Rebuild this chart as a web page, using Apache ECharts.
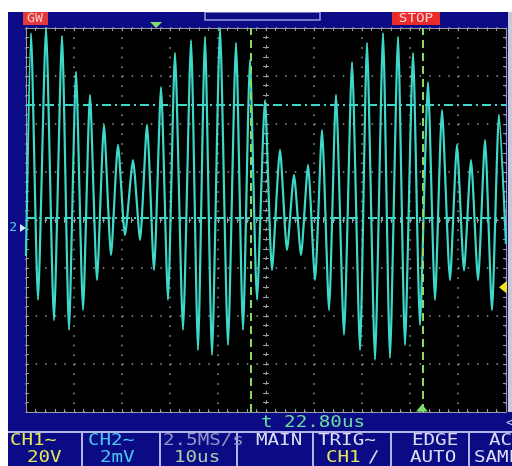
<!DOCTYPE html>
<html><head><meta charset="utf-8">
<script src="https://cdn.jsdelivr.net/npm/echarts@6/dist/echarts.min.js"></script>
<style>html,body{margin:0;padding:0;background:#fff}#c{width:512px;height:466px}</style>
</head><body><div id="c"></div>
<script>
// CH2 trace: successive extremes, time in µs from screen centre, value in mV
const traceTime = [-50, -48.96, -47.5, -45.83, -44.17, -42.5, -41.04, -39.58, -38.12, -36.67, -35.21,
  -33.75, -32.29, -30.83, -29.37, -27.71, -26.25, -24.79, -23.33, -21.87, -20.42,
  -18.96, -17.29, -15.62, -14.17, -12.71, -11.25, -9.58, -7.92, -6.25, -4.79,
  -3.33, -1.87, -0.21, 1.25, 2.92, 4.38, 5.83, 7.29, 8.75, 10.21,
  11.67, 13.13, 14.58, 16.25, 17.92, 19.58, 21.04, 22.71, 24.38, 25.83,
  27.5, 28.96, 30.63, 32.08, 33.75, 35.21, 36.67, 38.33, 39.79, 41.25,
  42.71, 44.17, 45.63, 47.08, 48.54, 50];
const traceVolt = [-1.5, 7.79, -3.33, 8.0, -4.17, 7.67, -4.58, 6.17, -3.75, 5.21, -2.5,
  3.96, -1.46, 3.13, -0.63, 2.5, -0.83, 3.96, -2.08, 5.54, -3.33,
  6.96, -4.58, 7.5, -5.42, 7.63, -5.63, 8.0, -5.21, 7.38, -4.58,
  6.67, -3.33, 5.0, -2.08, 2.92, -1.25, 1.88, -1.46, 2.29, -2.5,
  3.75, -3.75, 5.21, -4.79, 6.58, -5.42, 7.38, -5.83, 7.79, -5.75,
  7.63, -5.21, 6.96, -4.38, 5.75, -3.33, 4.58, -2.5, 3.13, -2.1,
  2.5, -2.5, 3.33, -3.75, 4.38, -1.0];
// cursors
const hCursorVolts = [4.79, 0.1];
const vCursorTimes = [-3.1, 32.7];
// markers
const trigPosTime = -22.9;
const cursorMarkTime = 32.5;
const ch2GroundVolt = -0.33;
const ch1TrigLevel = -2.8;
// screen texts
const topLeftText = 'GW';
const topRightText = 'STOP';
const cursorReadout = 't 22.80us';
const panelRow1 = ['CH1\u223C', 'CH2\u223C', '2.5MS/s', 'MAIN', 'TRIG\u223C', 'EDGE', 'AC'];
const panelRow2 = ['20V', '2mV', '10us', '', 'CH1', 'AUTO', 'SAMP'];

const chart = echarts.init(document.getElementById('c'), null, {renderer: 'canvas'});
const BLUE = '#0b0b86', TRACE = '#3ed8c8', GRIDC = '#9a9aa6', LAV = '#b4b4e6';
const MONO = '"DejaVu Sans Mono", monospace';

function frameX(pos) {
  return {type: 'value', min: -50, max: 50, interval: 10, position: pos,
    axisLine: {show: true, onZero: false, lineStyle: {color: GRIDC, width: 1}},
    axisTick: {show: true, inside: true, length: 3, lineStyle: {color: GRIDC}},
    minorTick: {show: true, splitNumber: 5, length: 3, lineStyle: {color: GRIDC}},
    axisLabel: {show: false}, splitLine: {show: false}};
}
function frameY(pos) {
  return {type: 'value', min: -8, max: 8, interval: 2, position: pos,
    axisLine: {show: true, onZero: false, lineStyle: {color: GRIDC, width: 1}},
    axisTick: {show: true, inside: true, length: 3, lineStyle: {color: GRIDC}},
    minorTick: {show: true, splitNumber: 5, length: 3, lineStyle: {color: GRIDC}},
    axisLabel: {show: false}, splitLine: {show: false}};
}
function centreX(inside) {
  return {type: 'value', min: -50, max: 50, interval: 10, position: 'bottom',
    axisLine: {show: true, onZero: true, onZeroAxisIndex: 0, lineStyle: {color: GRIDC, width: 1, type: [1.5, 8.1]}},
    axisTick: {show: true, inside: inside, length: 3, lineStyle: {color: GRIDC}},
    minorTick: {show: true, splitNumber: 5, length: 3, lineStyle: {color: GRIDC}},
    axisLabel: {show: false}, splitLine: {show: false}};
}
function centreY(inside) {
  return {type: 'value', min: -8, max: 8, interval: 2, position: 'left',
    axisLine: {show: true, onZero: true, onZeroAxisIndex: 0, lineStyle: {color: GRIDC, width: 1, type: [1.5, 8.1]}},
    axisTick: {show: true, inside: inside, length: 3, lineStyle: {color: GRIDC}},
    minorTick: {show: true, splitNumber: 5, length: 3, lineStyle: {color: GRIDC}},
    axisLabel: {show: false}, splitLine: {show: false}};
}

const xAxes = [frameX('bottom'), frameX('top'), centreX(true), centreX(false)];
xAxes[0].splitLine = {show: true, lineStyle: {color: GRIDC, width: 1.5, type: [1.5, 8.1]}};
const yAxes = [frameY('left'), frameY('right'), centreY(true), centreY(false)];
yAxes[0].splitLine = {show: true, lineStyle: {color: GRIDC, width: 1.5, type: [1.5, 8.1]}};

function txt(x, y, text, fill, align, size, sx) {
  return {type: 'text', x: x, y: y, scaleX: sx || 1.2, z: 100,
    style: {text: text, fill: fill, font: (size || 16) + 'px ' + MONO,
      textAlign: align || 'left', align: align || 'left', textVerticalAlign: 'middle', verticalAlign: 'middle'}};
}
function rect(x, y, w, h, fill, stroke) {
  return {type: 'rect', shape: {x: x, y: y, width: w, height: h}, z: 90,
    style: stroke ? {fill: 'none', stroke: stroke, lineWidth: 1.5} : {fill: fill}};
}
function vline(x, y1, y2, c) {
  return {type: 'line', shape: {x1: x, y1: y1, x2: x, y2: y2}, z: 95, style: {stroke: c, lineWidth: 2}};
}

const panelSeps = [82, 160, 237, 313, 391, 469];
const r1x = [10, 88, 163, 256, 318, 412, 489];
const r2x = [27, 100, 174, 0, 326, 410, 474];
const r1c = ['#e6e65a', '#4cc6f2', '#9494c4', '#dcdcf4', '#dcdcf4', '#dcdcf4', '#dcdcf4'];
const r2c = ['#e6e65a', '#4cc6f2', '#a8d0a8', '#dcdcf4', '#e6e65a', '#dcdcf4', '#dcdcf4'];

const graphics = [
  rect(205, 12, 115, 8, null, '#9a9ad6'),
  rect(0, 0, 512, 12, '#ffffff'),
  rect(0, 0, 8, 466, '#ffffff'),
  rect(508, 12, 4, 400, '#c8c8d8'),
  rect(23, 12, 25, 13, '#e03a3a'),
  txt(35, 19, topLeftText, '#ffc8c8', 'center', 12, 1.1),
  rect(392, 12, 48, 13, '#e82a2a'),
  txt(416, 19, topRightText, '#ffd6d6', 'center', 13, 1.1),
  txt(261, 423, cursorReadout, '#6edc9c', 'left', 16, 1.2),
  txt(506, 423, '<', '#c8c8e8', 'left', 14, 1),
  {type: 'line', shape: {x1: 8, y1: 432, x2: 512, y2: 432}, z: 95, style: {stroke: LAV, lineWidth: 2}}
];
panelSeps.forEach(x => graphics.push(vline(x, 432, 466, LAV)));
panelRow1.forEach((t, i) => graphics.push(txt(r1x[i], 441, t, r1c[i])));
panelRow2.forEach((t, i) => { if (t) graphics.push(txt(r2x[i], 458, t, r2c[i])); });
graphics.push(txt(368, 458, '\u2215', '#dcdcf4', 'left', 16, 1.2));

const option = {
  animation: false,
  backgroundColor: BLUE,
  grid: {left: 26, top: 28, width: 480, height: 384, show: true, backgroundColor: '#000000',
    borderWidth: 0, outerBoundsMode: 'none', containLabel: false},
  xAxis: xAxes,
  yAxis: yAxes,
  series: [{
    type: 'line', xAxisIndex: 0, yAxisIndex: 0, showSymbol: false, symbol: 'none',
    smooth: 0.2,
    lineStyle: {color: TRACE, width: 2.2}, z: 10,
    data: traceTime.map((t, i) => [t, traceVolt[i]]),
    markLine: {
      silent: true, symbol: 'none', label: {show: false}, z: 12,
      data: hCursorVolts.map(v => ({yAxis: v, lineStyle: {color: TRACE, width: 2, type: [9, 4, 2, 4]}}))
        .concat(vCursorTimes.map(t => ({xAxis: t, lineStyle: {color: '#8cd860', width: 2, type: [8, 5]}})))
    },
    markPoint: {
      silent: true, z: 20, label: {show: false},
      data: [
        {coord: [trigPosTime, 8], symbol: 'triangle', symbolSize: [12, 6], symbolRotate: 180, symbolOffset: [0, -3], itemStyle: {color: '#7ee06a'}},
        {coord: [cursorMarkTime, -8], symbol: 'triangle', symbolSize: [12, 7], symbolOffset: [0, -4], itemStyle: {color: '#7ee06a'}},
        {coord: [50, ch1TrigLevel], symbol: 'triangle', symbolSize: [13, 8], symbolRotate: 90, symbolOffset: [-3, 0], itemStyle: {color: '#f0e020'}},
        {coord: [-50, ch2GroundVolt], symbol: 'triangle', symbolSize: [8, 6], symbolRotate: -90, symbolOffset: [-3, 0], itemStyle: {color: '#cfe8ff'},
          label: {show: true, formatter: '2', position: 'left', distance: 3, color: '#5cc8f0', fontSize: 13, fontFamily: MONO}}
      ]
    }
  }],
  graphic: graphics
};
chart.setOption(option);
</script></body></html>
